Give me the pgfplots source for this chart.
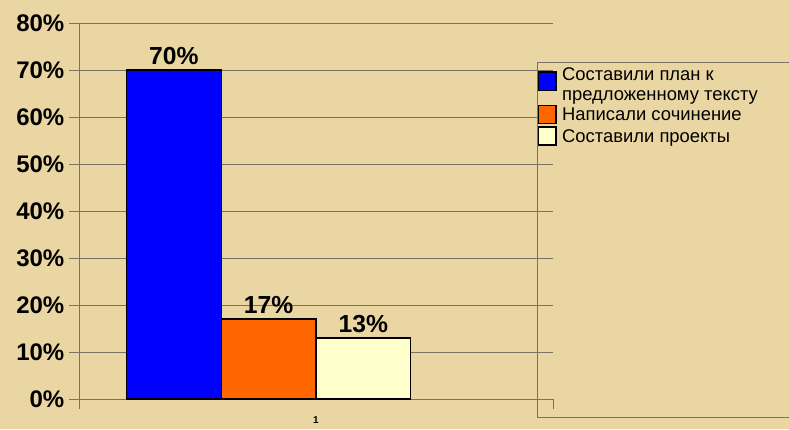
\documentclass[border=0pt]{standalone}
\usepackage{pgfplots}
\pgfplotsset{compat=1.18}
\usepackage{fontspec}
\setmainfont{Liberation Sans}
\definecolor{bg}{RGB}{234,214,163}
\definecolor{gridc}{RGB}{120,114,98}
\definecolor{cream}{RGB}{255,255,204}
\definecolor{orng}{RGB}{255,102,0}
\newcommand\ls{\rule[-4.5pt]{0pt}{15.75pt}}
\begin{document}
\begin{tikzpicture}[x=0.75pt,y=0.75pt]
\fill[bg] (-79,-30) rectangle (710,399);
\begin{axis}[
  at={(0,0)}, anchor=south west,
  scale only axis, width=355.5pt, height=282pt,
  xmin=0, xmax=5, ymin=0, ymax=80,
  axis x line=bottom, axis y line=left,
  axis line style={gridc, line width=0.6pt, -},
  /pgf/number format/assume math mode=true,
  ytick={0,10,...,80},
  yticklabel={\pgfmathprintnumber{\tick}\%},
  ymajorgrids, grid style={gridc, line width=0.6pt},
  tick style={gridc, line width=0.6pt},
  tick align=outside, major tick length=7.5pt,
  y tick label style={font=\fontsize{18}{20}\selectfont\bfseries, black},
  xtick={0,5}, xticklabels={,},
  extra x ticks={2.5}, extra x tick labels={1},
  extra x tick style={grid=none, tick style={draw=none},
    tick label style={font=\fontsize{7.5}{8}\selectfont\bfseries, black, yshift=-2pt}},
  mybar/.style={ybar, bar width=1, bar shift=0pt, draw=black, line width=1pt,
    nodes near coords={\pgfmathprintnumber{\pgfplotspointmeta}\%},
    every node near coord/.append style={font=\fontsize{18.5}{20}\selectfont\bfseries, text=black},
    legend image code/.code={\draw[##1, draw=black, line width=1.2pt] (0pt,-6.75pt) rectangle (13.5pt,6.75pt);}},
  legend style={at={(rel axis cs:0.9662,0.89)}, anchor=north west, draw=none, fill=none,
    inner sep=0pt, font=\fontsize{13.8}{16}\selectfont, row sep=1.5pt,
    nodes={inner sep=0pt},
    /tikz/every odd column/.append style={column sep=4pt}},
  legend cell align=left,
]
\addplot[mybar, fill=blue,
  legend image code/.code={\path[draw=none, fill=none] (0pt,-6.75pt) rectangle (13.5pt,6.75pt);
    \draw[##1, overlay, draw=black, line width=1.2pt] (0pt,-12.75pt) rectangle (13.5pt,1pt);}]
  coordinates {(1,70)};
\addlegendentry{\ls Составили план к}
\addlegendimage{legend image code/.code={\path[draw=none, fill=none] (0pt,-6.75pt) rectangle (13.5pt,6.75pt);}}
\addlegendentry{\ls предложенному тексту}
\addplot[mybar, fill=orng] coordinates {(2,17)};
\addlegendentry{\ls Написали сочинение}
\addplot[mybar, fill=cream] coordinates {(3,13)};
\addlegendentry{\ls Составили проекты}
\end{axis}
\draw[gridc, line width=0.6pt] (720,337) -- (458,337) -- (458,-18) -- (720,-18);
\pgfresetboundingbox
\useasboundingbox (-79,-30) rectangle (710,399);
\end{tikzpicture}
\end{document}
